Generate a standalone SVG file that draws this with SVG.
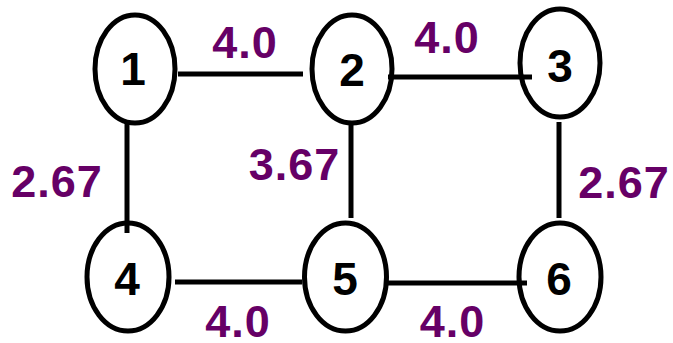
<svg xmlns="http://www.w3.org/2000/svg" width="673" height="343" viewBox="0 0 673 343">
<style>
.node ellipse{fill:#fff;stroke:#000;stroke-width:5}
.node text{font-family:"Liberation Sans",Arial,sans-serif;font-weight:bold;font-size:46px;fill:#000;text-anchor:middle}
#edges line{stroke:#000;stroke-width:5}
.w{font-family:"Liberation Sans",Arial,sans-serif;font-weight:bold;font-size:45px;letter-spacing:1px;fill:#660066;text-anchor:middle}
</style>
<rect width="673" height="343" fill="#fff"/>
<g id="nodes">
<g id="n1" class="node"><ellipse cx="135" cy="69" rx="40" ry="54"/><text x="133" y="85">1</text></g>
<g id="n2" class="node"><ellipse cx="352" cy="69" rx="40" ry="54"/><text x="352" y="86">2</text></g>
<g id="n3" class="node"><ellipse cx="560" cy="63" rx="40" ry="54"/><text x="560" y="82">3</text></g>
<g id="n4" class="node"><ellipse cx="128" cy="277" rx="41" ry="54"/><text x="127" y="295">4</text></g>
<g id="n5" class="node"><ellipse cx="345.5" cy="277" rx="41" ry="54"/><text x="345" y="295">5</text></g>
<g id="n6" class="node"><ellipse cx="560" cy="277" rx="41" ry="54"/><text x="559" y="295">6</text></g>
</g>
<g id="edges">
<line x1="178" y1="74" x2="303" y2="74"/>
<line x1="388" y1="77" x2="532" y2="77"/>
<line x1="127" y1="123" x2="127" y2="233"/>
<line x1="351" y1="123" x2="351" y2="218"/>
<line x1="559" y1="122" x2="559" y2="218"/>
<line x1="175" y1="282" x2="302" y2="282"/>
<line x1="385" y1="283" x2="527" y2="283"/>
</g>
<g id="labels">
<text class="w" x="245" y="58">4.0</text>
<text class="w" x="447" y="53">4.0</text>
<text class="w" x="57" y="197">2.67</text>
<text class="w" x="294.5" y="180">3.67</text>
<text class="w" x="624" y="198">2.67</text>
<text class="w" x="238" y="337">4.0</text>
<text class="w" x="452.5" y="337">4.0</text>
</g>
</svg>
